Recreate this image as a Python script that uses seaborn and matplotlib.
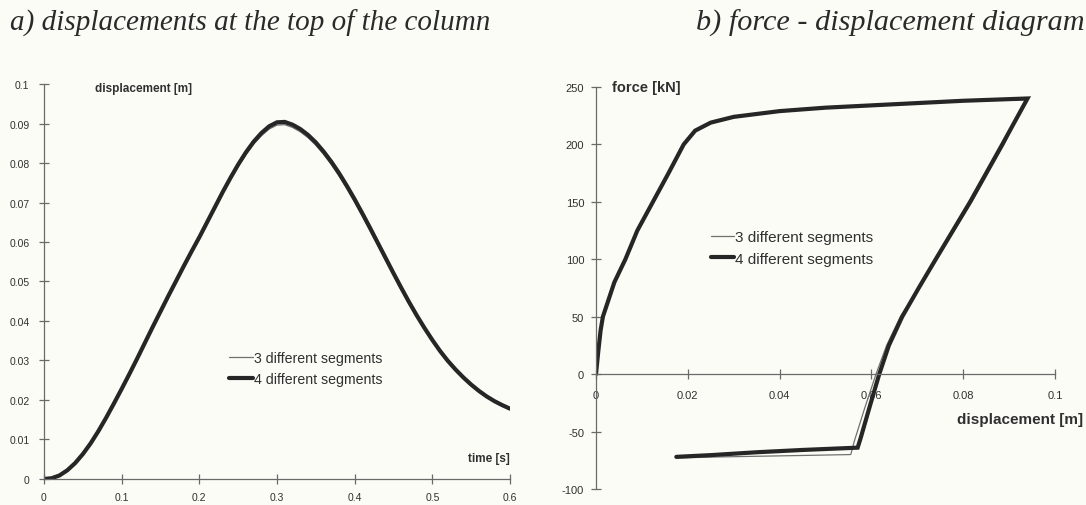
import numpy as np
import pandas as pd
import matplotlib
matplotlib.use("Agg")
import matplotlib.pyplot as plt
import seaborn as sns

# ---- a) displacement at the top of the column vs. time ----
time_s = [0.00, 0.01, 0.02, 0.03, 0.04, 0.05, 0.06, 0.07, 0.08, 0.09, 0.10,
          0.11, 0.12, 0.13, 0.14, 0.15, 0.16, 0.17, 0.18, 0.19, 0.20,
          0.21, 0.22, 0.23, 0.24, 0.25, 0.26, 0.27, 0.28, 0.29, 0.30,
          0.31, 0.32, 0.33, 0.34, 0.35, 0.36, 0.37, 0.38, 0.39, 0.40,
          0.41, 0.42, 0.43, 0.44, 0.45, 0.46, 0.47, 0.48, 0.49, 0.50,
          0.51, 0.52, 0.53, 0.54, 0.55, 0.56, 0.57, 0.58, 0.59, 0.60]
disp_4seg = [0.0000, 0.0002, 0.0009, 0.0022, 0.0040, 0.0063, 0.0090, 0.0121,
             0.0155, 0.0191, 0.0228, 0.0266, 0.0305, 0.0345, 0.0385, 0.0424,
             0.0463, 0.0501, 0.0539, 0.0576, 0.0612, 0.0650, 0.0688, 0.0726,
             0.0762, 0.0796, 0.0827, 0.0854, 0.0876, 0.0893, 0.0903, 0.0904,
             0.0897, 0.0886, 0.0871, 0.0852, 0.0829, 0.0803, 0.0774, 0.0742,
             0.0708, 0.0672, 0.0635, 0.0597, 0.0559, 0.0521, 0.0484, 0.0448,
             0.0414, 0.0382, 0.0352, 0.0324, 0.0299, 0.0277, 0.0257, 0.0239,
             0.0223, 0.0209, 0.0197, 0.0187, 0.0178]
disp_3seg = [0.0000, 0.0002, 0.0009, 0.0022, 0.0040, 0.0063, 0.0090, 0.0121,
             0.0155, 0.0191, 0.0228, 0.0266, 0.0305, 0.0345, 0.0385, 0.0424,
             0.0463, 0.0501, 0.0539, 0.0575, 0.0611, 0.0648, 0.0686, 0.0723,
             0.0758, 0.0791, 0.0821, 0.0848, 0.0869, 0.0886, 0.0896, 0.0897,
             0.0890, 0.0879, 0.0864, 0.0845, 0.0822, 0.0796, 0.0767, 0.0735,
             0.0701, 0.0665, 0.0628, 0.0591, 0.0553, 0.0516, 0.0479, 0.0444,
             0.0410, 0.0379, 0.0349, 0.0322, 0.0297, 0.0275, 0.0256, 0.0238,
             0.0222, 0.0208, 0.0196, 0.0186, 0.0178]

# ---- b) force - displacement loop ----
loop_d_4seg = [0.0000, 0.0005, 0.0010, 0.0015, 0.0025, 0.0040, 0.0064, 0.0090,
               0.0124, 0.0158, 0.0191, 0.0216, 0.0250, 0.0300, 0.0400, 0.0500,
               0.0600, 0.0700, 0.0800, 0.0940, 0.0885, 0.0815, 0.0740, 0.0703,
               0.0667, 0.0638, 0.0617, 0.0595, 0.0577, 0.0570, 0.0450, 0.0350,
               0.0250, 0.0175]
loop_f_4seg = [0, 20, 38, 50, 62, 80, 100, 125, 150, 175, 200, 212, 219, 224,
               229, 232, 234, 236, 238, 240, 200, 150, 100, 75, 50, 25, 0,
               -30, -55, -64, -66, -68, -70.5, -72]
loop_d_3seg = [0.0000, 0.0005, 0.0010, 0.0015, 0.0025, 0.0040, 0.0064, 0.0090,
               0.0124, 0.0158, 0.0191, 0.0216, 0.0250, 0.0300, 0.0400, 0.0500,
               0.0600, 0.0700, 0.0800, 0.0938, 0.0889, 0.0819, 0.0743, 0.0703,
               0.0663, 0.0633, 0.0610, 0.0585, 0.0563, 0.0555, 0.0450, 0.0350,
               0.0250, 0.0175]
loop_f_3seg = [0, 20, 38, 50, 62, 80, 100, 125, 150, 175, 200, 212, 219, 224,
               229, 232, 234, 236, 238, 239, 200, 150, 100, 75, 50, 25, 0,
               -30, -58, -70, -70.8, -71.5, -72.2, -73]

labels = ["3 different segments", "4 different segments"]
time_ticks = [0, 0.1, 0.2, 0.3, 0.4, 0.5, 0.6]
time_ticklabels = ["0", "0.1", "0.2", "0.3", "0.4", "0.5", "0.6"]
disp_ticks = [0, 0.01, 0.02, 0.03, 0.04, 0.05, 0.06, 0.07, 0.08, 0.09, 0.1]
disp_ticklabels = ["0", "0.01", "0.02", "0.03", "0.04", "0.05", "0.06", "0.07",
                   "0.08", "0.09", "0.1"]
loopx_ticks = [0, 0.02, 0.04, 0.06, 0.08, 0.1]
loopx_ticklabels = ["0", "0.02", "0.04", "0.06", "0.08", "0.1"]
force_ticks = [-100, -50, 0, 50, 100, 150, 200, 250]
force_ticklabels = ["-100", "-50", "0", "50", "100", "150", "200", "250"]

df_a = pd.concat([
    pd.DataFrame({"t": time_s, "u": disp_3seg, "model": labels[0]}),
    pd.DataFrame({"t": time_s, "u": disp_4seg, "model": labels[1]}),
])
df_b = pd.concat([
    pd.DataFrame({"d": loop_d_3seg, "F": loop_f_3seg, "model": labels[0]}),
    pd.DataFrame({"d": loop_d_4seg, "F": loop_f_4seg, "model": labels[1]}),
])

sns.set_theme(style="white")
plt.rcParams["font.family"] = ["Liberation Sans", "DejaVu Sans"]

BG = "#fcfcf6"
AX = "#6a6a6a"
TXT = "#303030"
palette = {labels[0]: "#707070", labels[1]: "#262626"}
widths = {labels[0]: 0.9, labels[1]: 3.0}

fig = plt.figure(figsize=(10.86, 5.06), dpi=100, facecolor=BG)
ax1 = fig.add_axes([0.0405, 0.0514, 0.4291, 0.7806])
ax2 = fig.add_axes([0.5488, 0.0316, 0.4227, 0.7945])


def draw(ax, df, x, y, sort):
    for name in labels:
        sub = df[df["model"] == name]
        sns.lineplot(data=sub, x=x, y=y, ax=ax, sort=sort, estimator=None,
                     color=palette[name], lw=widths[name], label=name,
                     solid_joinstyle="miter")


def style_axes(ax, xlabsize, ylabsize):
    ax.set_facecolor(BG)
    for s in ("top", "right"):
        ax.spines[s].set_visible(False)
    for s in ("left", "bottom"):
        ax.spines[s].set_color(AX)
        ax.spines[s].set_linewidth(0.9)
    ax.tick_params(axis="both", direction="inout", length=7, width=0.9,
                   colors=AX, left=True, bottom=True)
    ax.tick_params(axis="x", labelsize=xlabsize, labelcolor=TXT, pad=6)
    ax.tick_params(axis="y", labelsize=ylabsize, labelcolor=TXT, pad=7)
    ax.set_xlabel("")
    ax.set_ylabel("")


# a) time history
draw(ax1, df_a, "t", "u", True)
style_axes(ax1, 7.5, 7.5)
ax1.set_xlim(0, 0.6)
ax1.set_ylim(0, 0.1)
ax1.set_xticks(time_ticks, time_ticklabels)
ax1.set_yticks(disp_ticks, disp_ticklabels)
ax1.text(0.11, 0.99, "displacement [m]", transform=ax1.transAxes,
         fontsize=8.5, fontweight="bold", color=TXT, ha="left", va="center")
ax1.text(1.0, 0.053, "time [s]", transform=ax1.transAxes,
         fontsize=8.5, fontweight="bold", color=TXT, ha="right", va="center")
ax1.legend(loc="center left", bbox_to_anchor=(0.37, 0.28), frameon=False,
           fontsize=10.2, handlelength=1.7, handletextpad=0.05,
           labelspacing=0.5, labelcolor=TXT)

# b) hysteresis loop
draw(ax2, df_b, "d", "F", False)
style_axes(ax2, 8, 8)
ax2.set_xlim(0, 0.1)
ax2.set_ylim(-100, 250)
ax2.spines["bottom"].set_position(("data", 0))
ax2.set_xticks(loopx_ticks, loopx_ticklabels)
ax2.set_yticks(force_ticks, force_ticklabels)
ax2.tick_params(axis="x", pad=8)
ax2.tick_params(axis="y", pad=5)
ax2.text(0.035, 1.0, "force [kN]", transform=ax2.transAxes,
         fontsize=10.5, fontweight="bold", color=TXT, ha="left", va="center")
ax2.text(1.062, 0.174, "displacement [m]", transform=ax2.transAxes,
         fontsize=11, fontweight="bold", color=TXT, ha="right", va="center")
ax2.legend(loc="center left", bbox_to_anchor=(0.22, 0.6), frameon=False,
           fontsize=11, handlelength=1.55, handletextpad=0.05,
           labelspacing=0.5, labelcolor=TXT)

# panel headings
fig.text(0.009, 0.953, "a) displacements at the top of the column",
         family="Liberation Serif", style="italic", fontsize=21,
         color="#2a2a2a", ha="left", va="center")
fig.text(0.999, 0.953, "b) force - displacement diagram",
         family="Liberation Serif", style="italic", fontsize=21.8,
         color="#2a2a2a", ha="right", va="center")

fig.savefig("out.png", dpi=100, facecolor=BG)
